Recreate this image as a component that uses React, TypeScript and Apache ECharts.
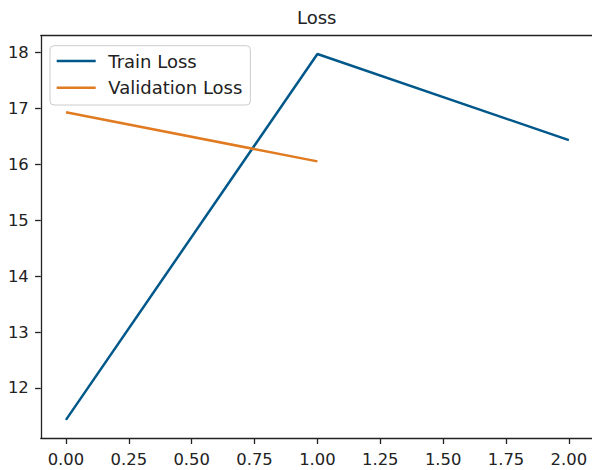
import React, { useEffect, useRef } from "react";
import * as echarts from "echarts";

const epochs = [0, 1, 2];
const trainLoss = [11.43, 17.97, 16.43];
const valEpochs = [0, 1];
const valLoss = [16.93, 16.05];
const xTicks = [0, 0.25, 0.5, 0.75, 1, 1.25, 1.5, 1.75, 2];
const yTicks = [12, 13, 14, 15, 16, 17, 18];

const FONT = "DejaVu Sans";
const TRAIN_COLOR = "#00588a";
const VAL_COLOR = "#e07b22";
const INK = "#222";

// The canvas is a little wider than the visible frame so the plot's right
// edge sits just past the clipped border.
const CANVAS_W = 600;
const VIEW_W = 592;
const VIEW_H = 470;

export default function App() {
  const ref = useRef<HTMLDivElement>(null);

  useEffect(() => {
    if (!ref.current) return;
    const chart = echarts.init(ref.current, null, { renderer: "svg" });
    chart.setOption({
      animation: false,
      backgroundColor: "#ffffff",
      title: {
        text: "Loss",
        left: 297,
        top: 8,
        padding: 0,
        textStyle: { fontFamily: FONT, fontSize: 18, fontWeight: "normal", color: INK },
      },
      legend: {
        orient: "vertical",
        left: 50,
        top: 45.7,
        padding: [5.3, 8, 7.3, 6.7],
        itemGap: 6.7,
        itemWidth: 39,
        itemHeight: 2.5,
        icon: "rect",
        borderColor: "#cccccc",
        borderWidth: 1,
        borderRadius: 4,
        backgroundColor: "rgba(255,255,255,0.8)",
        textStyle: {
          fontFamily: FONT,
          fontSize: 18,
          color: INK,
          lineHeight: 20,
          padding: [0, 0, 0, 7.6],
        },
        data: ["Train Loss", "Validation Loss"],
      },
      grid: {
        left: 40.8,
        right: CANVAS_W - 594,
        top: 35.7,
        bottom: 31.7,
        containLabel: false,
      },
      xAxis: [
        {
          type: "value",
          min: -0.1,
          max: 2.1,
          splitLine: { show: false },
          axisLine: { onZero: false, lineStyle: { color: INK, width: 1.3 } },
          axisTick: { show: true, length: 5.7, customValues: xTicks, lineStyle: { color: INK, width: 1.3 } },
          axisLabel: {
            customValues: xTicks,
            formatter: (v: number) => v.toFixed(2),
            fontFamily: FONT,
            fontSize: 16.4,
            color: INK,
            margin: 13,
          },
        },
        {
          // top spine only
          type: "value",
          position: "top",
          min: -0.1,
          max: 2.1,
          splitLine: { show: false },
          axisLine: { show: true, onZero: false, lineStyle: { color: INK, width: 1.3 } },
          axisTick: { show: false },
          axisLabel: { show: false },
        },
      ],
      yAxis: {
        type: "value",
        min: 11.1,
        max: 18.297,
        splitLine: { show: false },
        axisLine: { show: true, onZero: false, lineStyle: { color: INK, width: 1.3 } },
        axisTick: { show: true, length: 5.7, customValues: yTicks, lineStyle: { color: INK, width: 1.3 } },
        axisLabel: {
          customValues: yTicks,
          formatter: (v: number) => String(v),
          fontFamily: FONT,
          fontSize: 16.4,
          color: INK,
          margin: 12,
        },
      },
      series: [
        {
          name: "Train Loss",
          type: "line",
          data: epochs.map((e, i) => [e, trainLoss[i]]),
          showSymbol: false,
          color: TRAIN_COLOR,
          lineStyle: { color: TRAIN_COLOR, width: 2.5 },
        },
        {
          name: "Validation Loss",
          type: "line",
          data: valEpochs.map((e, i) => [e, valLoss[i]]),
          showSymbol: false,
          color: VAL_COLOR,
          lineStyle: { color: VAL_COLOR, width: 2.5 },
        },
      ],
    });
    return () => chart.dispose();
  }, []);

  return (
    <div
      style={{
        position: "absolute",
        left: 0,
        top: 0,
        width: VIEW_W,
        height: VIEW_H,
        overflow: "hidden",
        background: "#ffffff",
      }}
    >
      <div ref={ref} style={{ width: CANVAS_W, height: VIEW_H }} />
    </div>
  );
}
